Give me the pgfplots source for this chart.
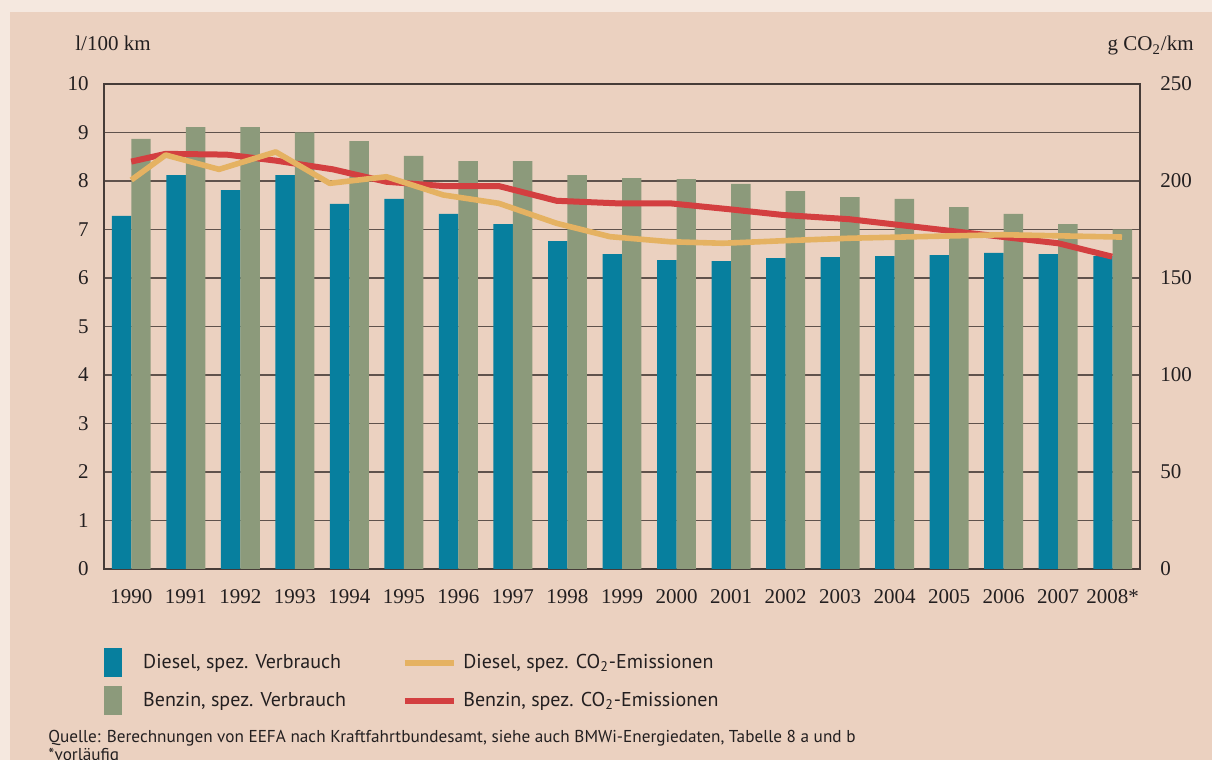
\documentclass[border=0pt]{standalone}
\usepackage{pgfplots}
\pgfplotsset{compat=1.18}
\usepackage{fontspec}
\setmainfont{Liberation Serif}
\newfontfamily\legfont{PT Sans}
\definecolor{diesel}{RGB}{7,127,158}
\definecolor{benzin}{RGB}{140,154,123}
\definecolor{cored}{RGB}{211,63,64}
\definecolor{coyel}{RGB}{229,178,98}
\definecolor{panel}{RGB}{235,209,192}
\definecolor{outer}{RGB}{245,232,223}
\definecolor{gridc}{RGB}{95,82,76}
\definecolor{axc}{RGB}{70,60,56}
\definecolor{txt}{RGB}{35,31,32}
\begin{document}
\begin{tikzpicture}
\fill[outer] (-52pt,-95.5pt) rectangle (554pt,284.5pt);
\fill[panel] (-47pt,-95.5pt) rectangle (554pt,278.5pt);
\begin{axis}[
  scale only axis, width=518pt, height=242.5pt,
  xmin=-0.5, xmax=18.5, ymin=0, ymax=10,
  xtick={0,...,18},
  xticklabels={1990,1991,1992,1993,1994,1995,1996,1997,1998,1999,2000,2001,2002,2003,2004,2005,2006,2007,2008*},
  ytick={0,...,10},
  major tick length=0pt,
  ymajorgrids, grid style={gridc, line width=0.75pt},
  axis line style={axc, line width=0.8pt},
  /pgf/number format/assume math mode=true,
  tick label style={font=\fontsize{10.5}{12}\selectfont, text=txt},
  yticklabel style={anchor=east, inner sep=0pt, xshift=-7.5pt},
  xticklabel style={anchor=north, inner sep=0pt, yshift=-10pt},
]
\addplot[ybar, bar width=0.357, bar shift=-0.1785, fill=diesel, draw=none] coordinates {
(0,7.28) (1,8.12) (2,7.81) (3,8.12) (4,7.53) (5,7.63) (6,7.32) (7,7.11) (8,6.76) (9,6.49)
(10,6.37) (11,6.35) (12,6.41) (13,6.43) (14,6.45) (15,6.47) (16,6.52) (17,6.49) (18,6.45)};
\addplot[ybar, bar width=0.357, bar shift=0.1785, fill=benzin, draw=none] coordinates {
(0,8.87) (1,9.11) (2,9.11) (3,9.00) (4,8.82) (5,8.52) (6,8.41) (7,8.41) (8,8.12) (9,8.06)
(10,8.04) (11,7.94) (12,7.79) (13,7.67) (14,7.63) (15,7.46) (16,7.32) (17,7.11) (18,7.00)};
\end{axis}
\begin{axis}[
  scale only axis, width=518pt, height=242.5pt,
  xmin=-0.5, xmax=18.5, ymin=0, ymax=250,
  axis x line=none, axis y line*=right,
  y axis line style={draw=none},
  ytick={0,50,...,250},
  major tick length=0pt,
  /pgf/number format/assume math mode=true,
  tick label style={font=\fontsize{10.5}{12}\selectfont, text=txt},
  yticklabel style={anchor=west, inner sep=0pt, xshift=10pt},
  legend columns=2,
  legend style={at={(axis description cs:0,-0.163)}, anchor=north west, draw=none, fill=none,
    inner sep=0pt, font=\legfont\fontsize{10}{12}\selectfont, text=txt,
    column sep=0pt, row sep=4.5pt,
    /tikz/every even column/.append style={column sep=26pt}},
  legend cell align=left,
]
\addlegendimage{legend image code/.code={\fill[diesel] (0pt,-7pt) rectangle (8.5pt,7pt); \path (17pt,0pt);}}
\addlegendentry{Diesel, spez. Verbrauch}
\addlegendimage{legend image code/.code={\draw[coyel, line width=3pt] (0pt,0pt) -- (24.5pt,0pt); \path (27pt,0pt);}}
\addlegendentry{Diesel, spez. CO\textsubscript{2}-Emissionen}
\addlegendimage{legend image code/.code={\fill[benzin] (0pt,-7pt) rectangle (8.5pt,7pt); \path (17pt,0pt);}}
\addlegendentry{Benzin, spez. Verbrauch}
\addlegendimage{legend image code/.code={\draw[cored, line width=3pt] (0pt,0pt) -- (24.5pt,0pt); \path (27pt,0pt);}}
\addlegendentry{Benzin, spez. CO\textsubscript{2}-Emissionen}
\addplot[cored, line width=3pt, line join=round, forget plot] coordinates {
(0,210) (0.63,214) (1.75,213.6) (2.65,210.5) (3.70,206) (4.68,199.6) (5.72,197.4) (6.74,197.4)
(7.80,189.8) (8.90,188.5) (9.88,188.5) (10.98,185.4) (11.95,182.5) (13.17,180.3) (17.0,167.9) (17.99,161)};
\addplot[coyel, line width=2.8pt, line join=round, forget plot] coordinates {
(0,200.5) (0.63,213.4) (1.61,206) (2.65,215) (3.64,198.8) (4.68,202.2) (5.72,192.8) (6.74,188.5)
(7.80,178.2) (8.78,171.3) (9.88,168.7) (10.85,167.9) (11.95,169.2) (13.17,170.5) (15.99,172.3) (18.17,171.1)};
\end{axis}
\node[anchor=base west, inner sep=0pt, text=txt, font=\fontsize{10.5}{12}\selectfont] at (-14.5pt,259pt) {l/100 km};
\node[anchor=base east, inner sep=0pt, text=txt, font=\fontsize{10.5}{12}\selectfont] at (545pt,259pt) {g CO\textsubscript{2}/km};
\node[anchor=west, inner sep=0pt, text=txt, font=\legfont\fontsize{8.6}{10}\selectfont] at (-28pt,-84.5pt) {Quelle: Berechnungen von EEFA nach Kraftfahrtbundesamt, siehe auch BMWi-Energiedaten, Tabelle 8 a und b};
\node[anchor=west, inner sep=0pt, text=txt, font=\legfont\fontsize{8.6}{10}\selectfont] at (-28pt,-93.5pt) {*vorläufig};
\pgfresetboundingbox
\useasboundingbox (-52pt,-95.5pt) rectangle (554pt,284.5pt);
\end{tikzpicture}
\end{document}
